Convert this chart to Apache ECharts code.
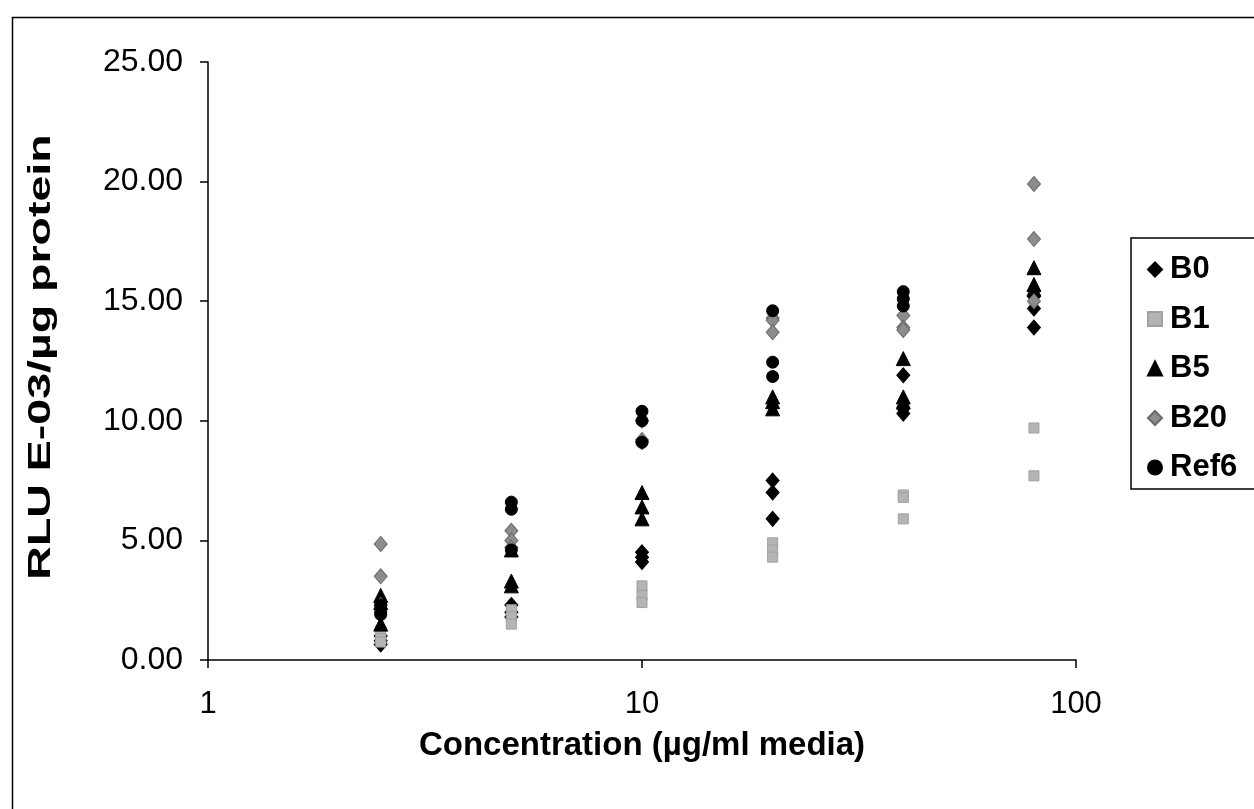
<!DOCTYPE html>
<html>
<head>
<meta charset="utf-8">
<script src="https://cdn.jsdelivr.net/npm/echarts@6/dist/echarts.min.js"></script>
<style>html,body{margin:0;padding:0;background:#fff}#c{width:1254px;height:809px}</style>
</head>
<body>
<div id="c"></div>
<script>
const concentrations = [2.5, 5, 10, 20, 40, 80];
const seriesNames = ['B0', 'B1', 'B5', 'B20', 'Ref6'];
const yTicks = [0, 5, 10, 15, 20, 25];
const xTicks = [1, 10, 100];
const xTitle = 'Concentration (µg/ml media)';
const yTitle = 'RLU E-03/µg protein';

// replicate values per concentration (index matches concentrations)
const B0 = [[1.0, 0.8, 0.65], [2.3, 1.8, 2.0], [4.5, 4.3, 4.1], [7.5, 7.0, 5.9], [11.9, 10.5, 10.3], [15.2, 14.7, 13.9]];
const B1 = [[1.2, 0.9, 0.75], [2.1, 1.8, 1.5], [3.1, 2.7, 2.4], [4.9, 4.6, 4.3], [6.9, 6.8, 5.9], [9.7, 7.7]];
const B5 = [[2.7, 2.4, 1.5], [4.6, 3.3, 3.1], [7.0, 6.4, 5.9], [11.0, 10.8, 10.5], [12.6, 11.0, 10.8], [16.4, 15.7, 15.5]];
const B20 = [[4.85, 3.5, 2.3], [5.4, 5.0, 4.7], [10.0, 9.2, 9.1], [14.3, 14.2, 13.7], [14.4, 13.9, 13.8], [19.9, 17.6, 15.0]];
const Ref6 = [[2.3, 2.0, 1.9], [6.6, 6.3, 4.6], [10.4, 10.0, 9.1], [14.6, 12.45, 11.85], [15.4, 15.1, 14.8], []];

const seriesValues = [B0, B1, B5, B20, Ref6];

function toPoints(vals) {
  const pts = [];
  vals.forEach((reps, i) => reps.forEach(v => pts.push([concentrations[i], v])));
  return pts;
}

const styles = [
  { symbol: 'diamond', size: [13, 15], color: '#000000', border: '#000000' },
  { symbol: 'rect', size: [10, 10], color: '#b4b4b4', border: '#a0a0a0' },
  { symbol: 'triangle', size: [14, 14], color: '#000000', border: '#000000' },
  { symbol: 'diamond', size: [13, 15], color: '#8c8c8c', border: '#6a6a6a' },
  { symbol: 'circle', size: [12, 12], color: '#000000', border: '#000000' }
];

const FONT = 'Liberation Sans, Arial, sans-serif';

const chart = echarts.init(document.getElementById('c'), null, { renderer: 'canvas' });
chart.setOption({
  animation: false,
  backgroundColor: '#ffffff',
  graphic: [{
    type: 'rect', left: 10, top: 15, silent: true, z: -1,
    shape: { width: 1400, height: 900 },
    style: { fill: 'none', stroke: '#000', lineWidth: 1.5 }
  }, {
    type: 'text', x: 41, y: 357, rotation: Math.PI / 2, scaleX: 1.5, silent: true,
    style: { text: yTitle, fill: '#000', font: 'bold 31px Liberation Sans, Arial, sans-serif',
      textAlign: 'center', textVerticalAlign: 'middle' }
  }],
  grid: { left: 208, right: 178, top: 62, bottom: 149, containLabel: false },
  legend: {
    orient: 'vertical',
    left: 1131, top: 238,
    padding: [16, 60, 6, 16],
    borderColor: '#000', borderWidth: 1.5,
    itemWidth: 14, itemHeight: 14, itemGap: 18.5,
    textStyle: { fontFamily: FONT, fontSize: 31, fontWeight: 'bold', color: '#000', lineHeight: 26, padding: [0, 0, 0, 3] },
    data: seriesNames
  },
  xAxis: {
    type: 'log', logBase: 10, min: 1, max: 100,
    name: xTitle, nameLocation: 'middle', nameGap: 69,
    nameTextStyle: { fontFamily: FONT, fontSize: 33, fontWeight: 'bold', color: '#000' },
    axisLine: { show: true, onZero: false, lineStyle: { color: '#000', width: 1.5 } },
    axisTick: { show: true, inside: false, length: 8, lineStyle: { color: '#000', width: 1.5 } },
    minorTick: { show: false },
    splitLine: { show: false },
    axisLabel: { fontFamily: FONT, fontSize: 31, color: '#000', margin: 29,
      formatter: v => xTicks.indexOf(v) >= 0 ? String(v) : '' }
  },
  yAxis: {
    type: 'value', min: 0, max: 25, interval: 5,
    axisLine: { show: true, lineStyle: { color: '#000', width: 1.5 } },
    axisTick: { show: true, inside: false, length: 8, lineStyle: { color: '#000', width: 1.5 } },
    splitLine: { show: false },
    axisLabel: { fontFamily: FONT, fontSize: 32, color: '#000', margin: 25,
      formatter: v => yTicks.indexOf(v) >= 0 ? v.toFixed(2) : '' }
  },
  series: seriesNames.map((name, i) => ({
    name: name,
    type: 'scatter',
    symbol: styles[i].symbol,
    symbolSize: styles[i].size,
    itemStyle: { color: styles[i].color, borderColor: styles[i].border, borderWidth: 1, opacity: 1 },
    data: toPoints(seriesValues[i]),
    z: 2 + i
  }))
});
</script>
</body>
</html>
